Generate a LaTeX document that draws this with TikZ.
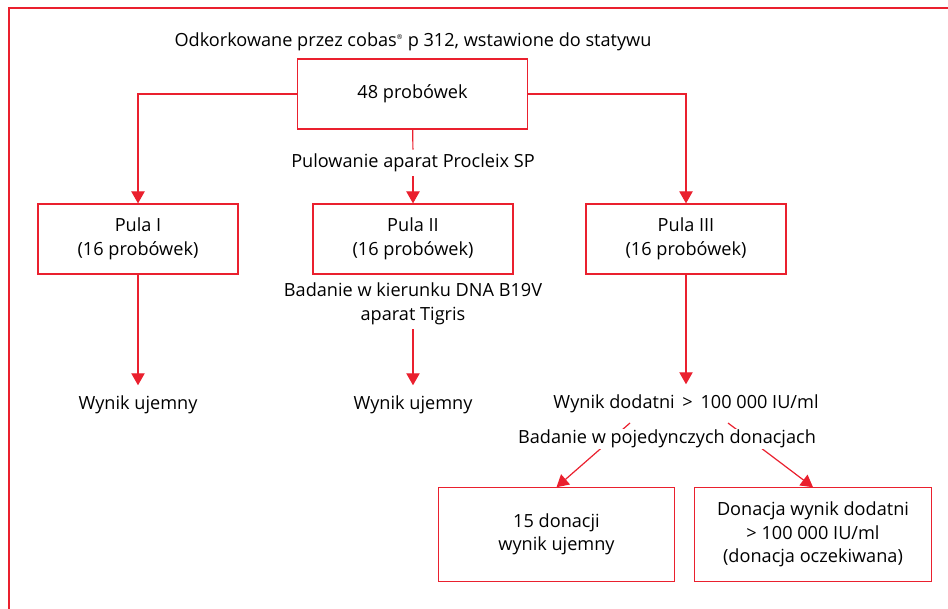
\documentclass[tikz,border=0pt]{standalone}
\usepackage{fontspec}
\setmainfont{Open Sans}
\usetikzlibrary{arrows.meta,positioning,calc}
\definecolor{flowred}{RGB}{234,32,46}

\begin{document}
\begin{tikzpicture}[x=0.75pt, y=-0.75pt,
  font=\fontsize{13.6}{17.6}\selectfont,
  box/.style ={draw=flowred, line width=0.9pt, align=center, inner sep=2pt,
               minimum width=150pt, minimum height=52.5pt},
  wbox/.style={box, minimum width=177.5pt, minimum height=70pt},
  lab/.style ={align=center, inner sep=3pt, fill=white},
  res/.style ={inner sep=2pt, outer sep=6pt},
  ln/.style  ={draw=flowred, line width=0.9pt},
  fl/.style  ={ln, -{Triangle[length=9pt,width=10pt]}}]

\useasboundingbox (0,0) rectangle (948,609);
\draw[ln, line width=1pt] (9,609) |- (948,8);

\node (title) at (413,42) {Odkorkowane przez cobas\textsuperscript{\tiny ®} p 312, wstawione do statywu};
\node[box, minimum width=173pt] (all) at (412.5,94) {48 probówek};
\node[lab] (pool) at (413,163) {Pulowanie aparat Procleix SP};

\node[box] (p1) at (138,239) {Pula I\\(16 probówek)};
\node[box] (p2) at (413,239) {Pula II\\(16 probówek)};
\node[box] (p3) at (686,239) {Pula III\\(16 probówek)};

\node[lab] (dna) at (413,304) {Badanie w kierunku DNA B19V\\aparat Tigris};

\node[res] (neg1) at (138,405) {Wynik ujemny};
\node[res] (neg2) at (413,405) {Wynik ujemny};
\node[res] (pos) at (686,404) {Wynik dodatni \,>\, 100 000 IU/ml};

\node[wbox] (don15) at (556.5,534.5) {15 donacji\\wynik ujemny};
\node[wbox] (donpos) at (813,534.5) {Donacja wynik dodatni\\> 100 000 IU/ml\\(donacja oczekiwana)};

\coordinate (sl) at (630,423);
\coordinate (sr) at (728,423);

\draw[fl] (all.west) -| (p1.north);
\draw[fl] (all.east) -| (p3.north);
\draw[ln] (all) -- (pool);
\draw[fl] (pool) -- (p2);
\foreach \a/\b in {p1/neg1,dna/neg2,p3/pos}
  \draw[fl] (\a) -- (\b);
\draw[fl] (sl) -- (don15.north);
\draw[fl] (sr) -- (donpos.north);

\node[lab, inner sep=1pt] (single) at (667,439) {Badanie w pojedynczych donacjach};
\end{tikzpicture}
\end{document}
